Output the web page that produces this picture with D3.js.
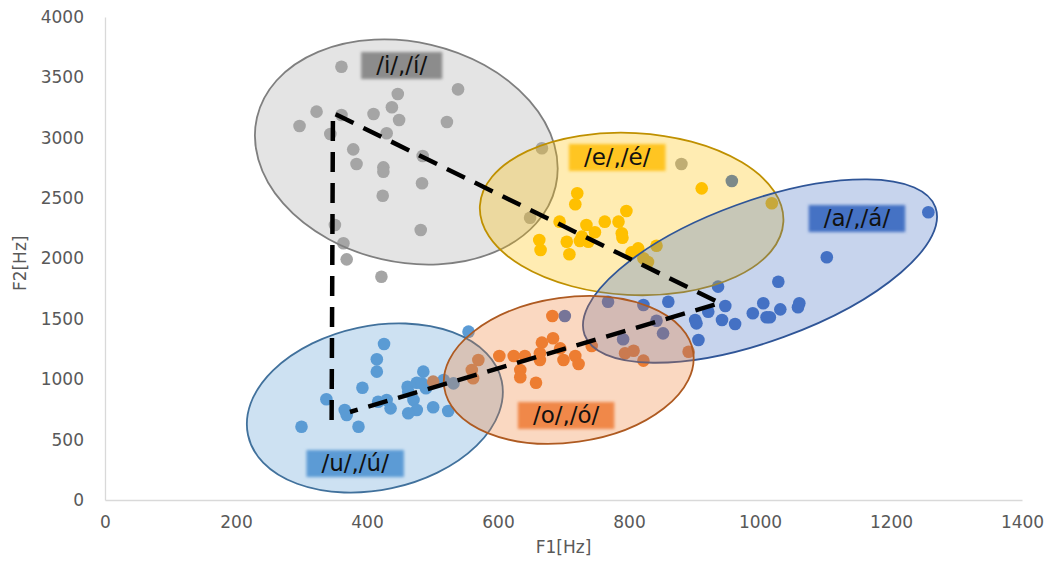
<!DOCTYPE html>
<html>
<head>
<meta charset="utf-8">
<script src="https://d3js.org/d3.v7.min.js"></script>
<style>
  body { margin: 0; background: #fff; }
  text { font-family: "DejaVu Sans", sans-serif; }
</style>
</head>
<body>
<div class="chart"></div>
<script>
var svgWidth = 1051;
var svgHeight = 568;

var margin = { top: 17, right: 29, bottom: 68, left: 105 };
var width = svgWidth - margin.left - margin.right;
var height = svgHeight - margin.top - margin.bottom;

// vowel measurements [F1, F2] in Hz
var vowelI = [[361,3588],[447,3362],[539,3401],[323,3216],[361,3188],[410,3197],[438,3252],
  [449,3147],[522,3130],[297,3097],[344,3031],[430,3037],[379,2904],[384,2783],[425,2755],
  [425,2719],[485,2849],[484,2623],[424,2520],[351,2277],[482,2236],[364,2126],[369,1993],
  [422,1849],[667,2913],[649,2338],[880,2783]];
var vowelE = [[721,2540],[718,2449],[796,2393],[694,2305],[763,2305],[784,2305],[735,2277],
  [748,2217],[728,2181],[789,2209],[790,2172],[663,2153],[665,2070],[705,2139],[725,2145],
  [738,2139],[709,2035],[804,2051],[814,2084],[822,2002],[842,2106],[911,2581],[1018,2457],
  [829,1971]];
var vowelA = [[1257,2383],[1102,2010],[1028,1808],[936,1767],[860,1642],[822,1615],[947,1607],
  [921,1559],[1005,1629],[1031,1579],[1060,1629],[1058,1596],[989,1546],[1010,1513],[1015,1513],
  [901,1491],[903,1463],[942,1491],[962,1458],[906,1325],[768,1642],[842,1485],[852,1380],
  [791,1331],[702,1524],[957,2642]];
var vowelU = [[555,1394],[426,1292],[415,1165],[415,1063],[486,1063],[393,930],[338,834],
  [366,745],[369,704],[387,607],[300,607],[417,814],[430,828],[436,759],[462,938],[476,971],
  [490,925],[471,828],[476,745],[463,718],[501,768],[524,737],[532,966],[463,897],[484,966],
  [517,994]];
var vowelO = [[683,1524],[667,1303],[684,1339],[602,1193],[624,1193],[641,1193],[664,1215],
  [695,1256],[700,1159],[718,1193],[723,1126],[664,1159],[634,1077],[634,1016],[658,971],
  [743,1275],[794,1215],[807,1236],[822,1154],[891,1228],[570,1159],[560,1077],[562,1008],
  [501,980]];

// vowel areas: centre F1, centre F2, half width (Hz of F1), half height (Hz of F2), tilt
var areaNames = ["/i/,/í/", "/e/,/é/", "/a/,/á/", "/u/,/ú/", "/o/,/ó/"];
var areaCentre = [[460,2882],[804,2369],[1000,1896],[412,762],[708,1077]];
var areaRadius = [[234,911],[232,671],[285,580],[198,679],[192,600]];
var areaTilt = [13, 3, -20, -12, -8];
var labelPos = [[453,3602],[782,2841],[1148,2335],[382,306],[704,704]];

// vowel triangle u - i - a - u
var triangle = [[346,662],[348,3205],[939,1631],[374,729]];

var xTicks = [0,200,400,600,800,1000,1200,1400];
var yTicks = [0,500,1000,1500,2000,2500,3000,3500,4000];

var series = [vowelI, vowelE, vowelA, vowelU, vowelO];
var pointColors = ["#a5a5a5", "#ffc000", "#4472c4", "#5b9bd5", "#ed7d31"];
var strokeColors = ["#7f7f7f", "#bf9000", "#2f5597", "#41719c", "#ae5a21"];
var boxColors = ["#8c8c8c", "#ffc524", "#4472c4", "#5b9bd5", "#f0884a"];

var svg = d3.select(".chart")
  .append("svg")
  .attr("width", svgWidth)
  .attr("height", svgHeight)
  .style("background", "#fff");

var defs = svg.append("defs");
defs.append("filter")
  .attr("id", "soft")
  .attr("x", "-10%").attr("y", "-20%")
  .attr("width", "120%").attr("height", "140%")
  .append("feGaussianBlur")
  .attr("stdDeviation", 1.6);

var chartGroup = svg.append("g")
  .attr("transform", `translate(${margin.left}, ${margin.top})`);

var xScale = d3.scaleLinear().domain([0, 1400]).range([0, width]);
var yScale = d3.scaleLinear().domain([0, 4000]).range([height, 0]);

// axes, plain numbers without thousands separator
var leftAxis = d3.axisLeft(yScale).tickValues(yTicks).tickFormat(d3.format("d"))
  .tickSize(0).tickPadding(21).tickSizeOuter(0);
var bottomAxis = d3.axisBottom(xScale).tickValues(xTicks).tickFormat(d3.format("d"))
  .tickSize(0).tickPadding(16).tickSizeOuter(0);

var yAxis = chartGroup.append("g").call(leftAxis);
var xAxis = chartGroup.append("g")
  .attr("transform", `translate(0, ${height})`)
  .call(bottomAxis);

[xAxis, yAxis].forEach(function(ax) {
  ax.select(".domain").attr("stroke", "#d9d9d9").attr("stroke-width", 1.3);
  ax.selectAll("text")
    .attr("fill", "#595959")
    .style("font-size", "17px")
    .style("font-family", "'DejaVu Sans', sans-serif");
});

svg.append("text")
  .attr("x", margin.left + xScale(700))
  .attr("y", 553)
  .attr("text-anchor", "middle")
  .attr("fill", "#595959")
  .style("font-size", "17px")
  .text("F1[Hz]");

svg.append("text")
  .attr("transform", `translate(26, ${margin.top + yScale(1960)}) rotate(-90)`)
  .attr("text-anchor", "middle")
  .attr("fill", "#595959")
  .style("font-size", "17px")
  .text("F2[Hz]");

// points first, the areas are see-through on top of them
series.forEach(function(data, i) {
  chartGroup.append("g")
    .selectAll("circle")
    .data(data)
    .enter()
    .append("circle")
    .attr("cx", d => xScale(d[0]))
    .attr("cy", d => yScale(d[1]))
    .attr("r", 6.3)
    .attr("fill", pointColors[i]);
});

areaNames.forEach(function(name, i) {
  var cx = xScale(areaCentre[i][0]);
  var cy = yScale(areaCentre[i][1]);
  chartGroup.append("ellipse")
    .attr("cx", cx)
    .attr("cy", cy)
    .attr("rx", xScale(areaRadius[i][0]) - xScale(0))
    .attr("ry", yScale(0) - yScale(areaRadius[i][1]))
    .attr("transform", `rotate(${areaTilt[i]}, ${cx}, ${cy})`)
    .attr("fill", pointColors[i])
    .attr("fill-opacity", 0.3)
    .attr("stroke", strokeColors[i])
    .attr("stroke-width", 1.8);
});

// dashed vowel triangle
var line = d3.line()
  .x(d => xScale(d[0]))
  .y(d => yScale(d[1]));

chartGroup.append("path")
  .datum(triangle)
  .attr("d", line)
  .attr("fill", "none")
  .attr("stroke", "#000")
  .attr("stroke-width", 4.5)
  .attr("stroke-dasharray", "20,11");

// labels with soft edged boxes
areaNames.forEach(function(name, i) {
  var g = chartGroup.append("g")
    .attr("transform", `translate(${xScale(labelPos[i][0])}, ${yScale(labelPos[i][1])})`);
  var box = g.append("rect").attr("fill", boxColors[i]).attr("filter", "url(#soft)");
  var t = g.append("text")
    .attr("text-anchor", "middle")
    .attr("dy", "0.36em")
    .attr("fill", "#111")
    .style("font-size", "23px")
    .text(name);
  var w = t.node().getComputedTextLength() + 30;
  box.attr("x", -w / 2).attr("y", -13).attr("width", w).attr("height", 27);
});
</script>
</body>
</html>
